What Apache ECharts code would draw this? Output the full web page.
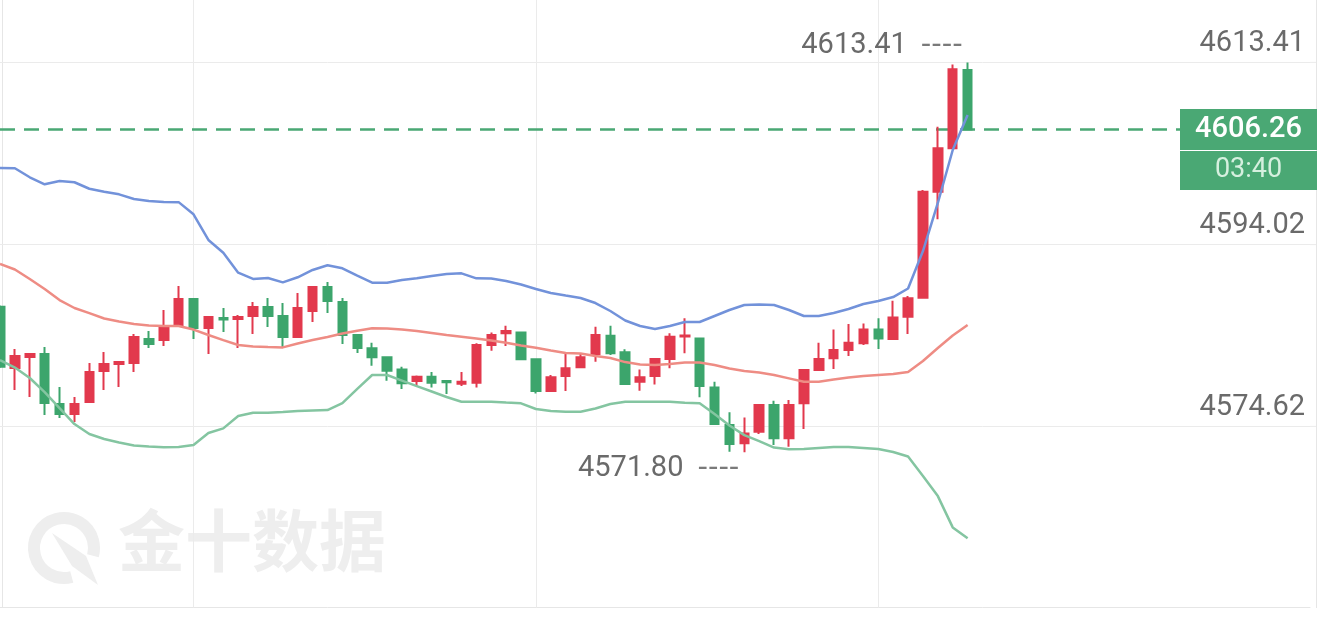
<!DOCTYPE html>
<html><head><meta charset="utf-8">
<script src="https://cdn.jsdelivr.net/npm/echarts@6/dist/echarts.min.js"></script>
<style>html,body{margin:0;padding:0;background:#fff;overflow:hidden}#c{width:1320px;height:627px}</style>
</head><body><div id="c"></div>
<script>
// ---- data ----
const candleLabels = ['1','2','3','4','5','6','7','8','9','10','11','12','13','14','15','16','17','18','19','20','21','22','23','24','25','26','27','28','29','30','31','32','33','34','35','36','37','38','39','40','41','42','43','44','45','46','47','48','49','50','51','52','53','54','55','56','57','58','59','60','61','62','63','64','65','66'];
const opens = [4587.34,4580.79,4581.97,4582.29,4576.95,4575.88,4577.16,4580.47,4581.22,4581.33,
4583.89,4583.78,4585.38,4588.16,4585.06,4586.13,4586.02,4586.34,4587.30,4586.34,
4584.10,4586.88,4589.44,4587.84,4584.32,4582.90,4581.94,4580.65,4579.41,4579.86,
4579.41,4579.12,4579.22,4583.25,4584.50,4584.60,4581.72,4578.34,4579.94,4580.87,
4582.26,4584.24,4582.47,4579.33,4579.94,4581.75,4584.15,4583.96,4578.73,4574.71,
4572.76,4574.00,4576.84,4573.29,4577.03,4580.58,4581.83,4582.71,4583.43,4584.92,
4583.89,4586.27,4588.30,4599.61,4604.24,4612.60];
const closes = [4580.93,4582.07,4582.29,4577.06,4575.88,4576.95,4580.37,4581.22,4581.43,4584.10,
4583.35,4585.28,4588.16,4585.06,4586.24,4585.97,4586.24,4587.30,4586.34,4584.10,
4587.20,4589.44,4587.94,4584.32,4582.93,4581.94,4580.51,4579.16,4579.86,4579.22,
4579.27,4579.33,4583.25,4584.32,4584.74,4581.72,4578.34,4579.80,4580.76,4581.94,
4584.32,4582.36,4579.09,4579.80,4581.75,4584.13,4584.26,4578.87,4574.82,4572.68,
4573.82,4576.84,4573.29,4576.84,4580.58,4581.75,4582.71,4583.49,4584.92,4583.96,
4586.20,4588.23,4599.61,4604.24,4612.67,4606.26];
const lows = [4580.80,4578.45,4577.70,4575.78,4575.46,4575.03,4577.06,4578.45,4578.77,4580.37,
4582.93,4583.14,4585.28,4583.89,4582.29,4584.64,4582.93,4584.42,4585.17,4582.93,
4584.05,4585.70,4586.66,4583.35,4582.39,4581.04,4579.44,4578.55,4578.87,4578.73,
4578.02,4578.87,4578.73,4582.64,4583.14,4581.70,4578.09,4578.26,4578.34,4580.85,
4581.47,4582.18,4578.98,4578.37,4579.05,4580.76,4582.36,4577.67,4574.80,4571.87,
4571.80,4573.75,4572.58,4572.39,4574.28,4580.56,4580.69,4582.07,4583.25,4582.82,
4583.87,4584.42,4588.23,4596.66,4604.22,4606.20];
const highs = [4587.50,4582.82,4582.35,4583.03,4578.77,4577.70,4581.33,4582.50,4581.50,4584.42,
4584.74,4586.98,4589.54,4588.26,4586.30,4587.20,4586.45,4587.84,4588.26,4587.73,
4588.80,4589.54,4589.97,4588.26,4584.35,4583.49,4582.00,4580.93,4580.01,4580.37,
4579.46,4580.37,4583.43,4584.60,4585.31,4584.62,4581.83,4580.05,4582.29,4582.36,
4585.20,4585.31,4582.79,4580.65,4581.83,4584.50,4586.10,4583.98,4579.33,4576.07,
4575.53,4576.95,4577.30,4577.38,4580.60,4583.49,4584.92,4585.49,4585.56,4586.10,
4587.98,4588.48,4599.79,4606.55,4613.20,4613.41];
const upperBand = [4602.14,4602.11,4601.15,4600.40,4600.75,4600.62,4599.93,4599.61,4599.33,4598.83,
4598.62,4598.51,4598.50,4597.20,4594.46,4593.10,4590.97,4590.30,4590.40,4589.94,
4590.48,4591.26,4591.76,4591.44,4590.65,4589.90,4589.90,4590.19,4590.37,4590.62,
4590.83,4590.90,4590.37,4590.35,4590.08,4589.71,4589.23,4588.80,4588.53,4588.27,
4587.73,4586.88,4585.87,4585.28,4584.96,4585.28,4585.71,4585.71,4586.35,4586.99,
4587.52,4587.57,4587.52,4586.99,4586.35,4586.35,4586.67,4587.09,4587.63,4587.95,
4588.37,4589.28,4593.28,4598.41,4604.06,4607.80];
const middleBand = [4591.90,4591.31,4590.30,4589.23,4588.05,4587.20,4586.66,4586.08,4585.76,4585.49,
4585.33,4585.28,4585.28,4584.90,4584.32,4583.78,4583.25,4583.09,4583.03,4583.00,
4583.41,4583.78,4584.10,4584.48,4584.77,4585.03,4585.01,4584.92,4584.74,4584.53,
4584.32,4584.13,4583.94,4583.73,4583.49,4583.19,4582.96,4582.66,4582.39,4582.34,
4582.07,4581.86,4581.43,4581.17,4581.11,4581.22,4581.38,4581.38,4581.11,4580.74,
4580.47,4580.31,4580.05,4579.69,4579.33,4579.33,4579.57,4579.78,4579.94,4580.05,
4580.15,4580.37,4581.54,4582.93,4584.26,4585.38];
const lowerBand = [4581.65,4580.85,4579.73,4578.23,4576.52,4574.82,4573.75,4573.22,4572.84,4572.52,
4572.42,4572.33,4572.36,4572.58,4573.86,4574.36,4575.67,4576.02,4576.02,4576.10,
4576.20,4576.26,4576.31,4577.06,4578.58,4580.05,4580.05,4579.46,4578.87,4578.29,
4577.70,4577.20,4577.20,4577.20,4577.11,4577.03,4576.42,4576.20,4576.13,4576.13,
4576.47,4576.95,4577.20,4577.20,4577.20,4577.20,4577.09,4577.03,4575.88,4574.66,
4573.64,4573.00,4572.31,4572.12,4572.15,4572.26,4572.36,4572.36,4572.26,4572.15,
4571.83,4571.35,4569.27,4567.13,4563.79,4562.62];
const priceTicks = [4613.41, 4594.02, 4574.62];
const timeGridIndices = [13, 36, 59];
const lastPrice = 4606.26;
const countdown = '03:40';
const highMark = { index: 65, value: 4613.41 };
const lowMark = { index: 50, value: 4571.80 };
const watermark = '金十数据';

// ---- layout ----
const yMin = 4555.22, yMax = 4620.07;
const emptySlots = 23; // blank space to the right of the last candle
const categories = candleLabels.concat(Array(emptySlots).fill(''));
const lastSlot = categories.length - 1;

const RED = '#e2394d', GREEN = '#3ca56c', BOXGREEN = '#4aa874';
const GREY = '#6a6a6a', GRID = '#ebebeb';
const NUMFONT = 'Roboto';

const candleData = opens.map((o, i) => [o, closes[i], lows[i], highs[i]]);

const markLabelRich = {
  v: { fontSize: 29, color: GREY, fontFamily: NUMFONT },
  d: { fontSize: 29, color: '#7a7a7a', fontFamily: 'DejaVu Sans', padding: [0, 0, 0, 14] }
};

const option = {
  animation: false,
  backgroundColor: '#ffffff',
  grid: { left: 0, right: 10, top: 0, bottom: 19.3, containLabel: false },
  xAxis: {
    type: 'category', data: categories, boundaryGap: false,
    axisLine: { show: true, lineStyle: { color: '#e6e6e6', width: 1 } },
    axisTick: { show: false }, axisLabel: { show: false }, splitLine: { show: false }
  },
  yAxis: {
    type: 'value', position: 'right', min: yMin, max: yMax, scale: true,
    axisLine: { show: false }, axisTick: { show: false }, axisLabel: { show: false }, splitLine: { show: false }
  },
  graphic: [
    { type: 'line', z: 0, shape: { x1: 2.5, y1: 0, x2: 2.5, y2: 608 }, style: { stroke: '#e6e6e6', lineWidth: 1 } },
    { type: 'line', z: 0, shape: { x1: 1316.5, y1: 0, x2: 1316.5, y2: 608 }, style: { stroke: '#e6e6e6', lineWidth: 1 } },
    { type: 'line', z: 0, shape: { x1: 1310, y1: 62.4, x2: 1316, y2: 62.4 }, style: { stroke: GRID, lineWidth: 1 } },
    { type: 'line', z: 0, shape: { x1: 1310, y1: 244.6, x2: 1316, y2: 244.6 }, style: { stroke: GRID, lineWidth: 1 } },
    { type: 'line', z: 0, shape: { x1: 1310, y1: 426.4, x2: 1316, y2: 426.4 }, style: { stroke: GRID, lineWidth: 1 } },
    { type: 'arc', z: 0, shape: { cx: 64, cy: 548, r: 30, startAngle: 75 * Math.PI / 180, endAngle: 375 * Math.PI / 180, clockwise: true },
      style: { stroke: '#eeeeee', lineWidth: 12, fill: null } },
    { type: 'polygon', z: 0, shape: { points: [[52, 533], [86, 556], [98, 585], [72, 566]] }, style: { fill: '#eeeeee' } },
    { type: 'text', z: 0, left: 118, top: 507,
      style: { text: watermark, font: 'bold 67px "Noto Sans CJK SC"', fill: '#eeeeee' } }
  ],
  series: [
    {
      type: 'candlestick', name: 'K', z: 2,
      data: candleData, barWidth: 9,
      itemStyle: { color: RED, color0: GREEN, borderColor: RED, borderColor0: GREEN, borderWidth: 2 },
      markLine: {
        z: 1, silent: true, symbol: 'none', animation: false,
        data: [
          ...priceTicks.map(v => ({
            yAxis: v,
            lineStyle: { color: GRID, width: 1, type: 'solid' },
            label: { show: true, position: 'insideEndTop', distance: 3, padding: [0, 2, 1, 0],
              formatter: () => v.toFixed(2), fontSize: 29, color: GREY, fontFamily: NUMFONT }
          })),
          ...timeGridIndices.map(i => ({
            xAxis: i, lineStyle: { color: GRID, width: 1, type: 'solid' }, label: { show: false }
          })),
          { yAxis: lastPrice, lineStyle: { color: BOXGREEN, width: 2.5, type: [15, 9] }, label: { show: false } }
        ]
      },
      markPoint: {
        z: 6, silent: true, animation: false,
        data: [
          { coord: [highMark.index, highMark.value], value: highMark.value, symbol: 'circle', symbolSize: 0,
            label: { show: true, position: 'left', distance: 5, offset: [0, -17],
              formatter: () => '{v|' + highMark.value.toFixed(2) + '}{d|----}', rich: markLabelRich } },
          { coord: [lowMark.index, lowMark.value], value: lowMark.value, symbol: 'circle', symbolSize: 0,
            label: { show: true, position: 'left', distance: 5, offset: [0, 16],
              formatter: () => '{v|' + lowMark.value.toFixed(2) + '}{d|----}', rich: markLabelRich } },
          { coord: [lastSlot, lastPrice], value: lastPrice, symbol: 'rect', symbolSize: [137, 41], symbolOffset: [-61.5, 0],
            itemStyle: { color: BOXGREEN },
            label: { show: true, position: 'inside', formatter: () => lastPrice.toFixed(2),
              color: '#ffffff', fontSize: 29, fontWeight: 500, fontFamily: NUMFONT } },
          { coord: [lastSlot, lastPrice], value: lastPrice, symbol: 'rect', symbolSize: [137, 39], symbolOffset: [-61.5, 41],
            itemStyle: { color: BOXGREEN },
            label: { show: true, position: 'inside', formatter: () => countdown,
              color: '#d6f0df', fontSize: 27, fontFamily: NUMFONT } }
        ]
      }
    },
    { type: 'line', name: 'UP', z: 3, data: upperBand, showSymbol: false, symbol: 'none',
      lineStyle: { color: '#7292da', width: 2.5 } },
    { type: 'line', name: 'MID', z: 3, data: middleBand, showSymbol: false, symbol: 'none',
      lineStyle: { color: '#ee8c84', width: 2.5 } },
    { type: 'line', name: 'DN', z: 3, data: lowerBand, showSymbol: false, symbol: 'none',
      lineStyle: { color: '#84c5a1', width: 2.5 } }
  ]
};

const chart = echarts.init(document.getElementById('c'));
chart.setOption(option);
</script>
</body></html>
